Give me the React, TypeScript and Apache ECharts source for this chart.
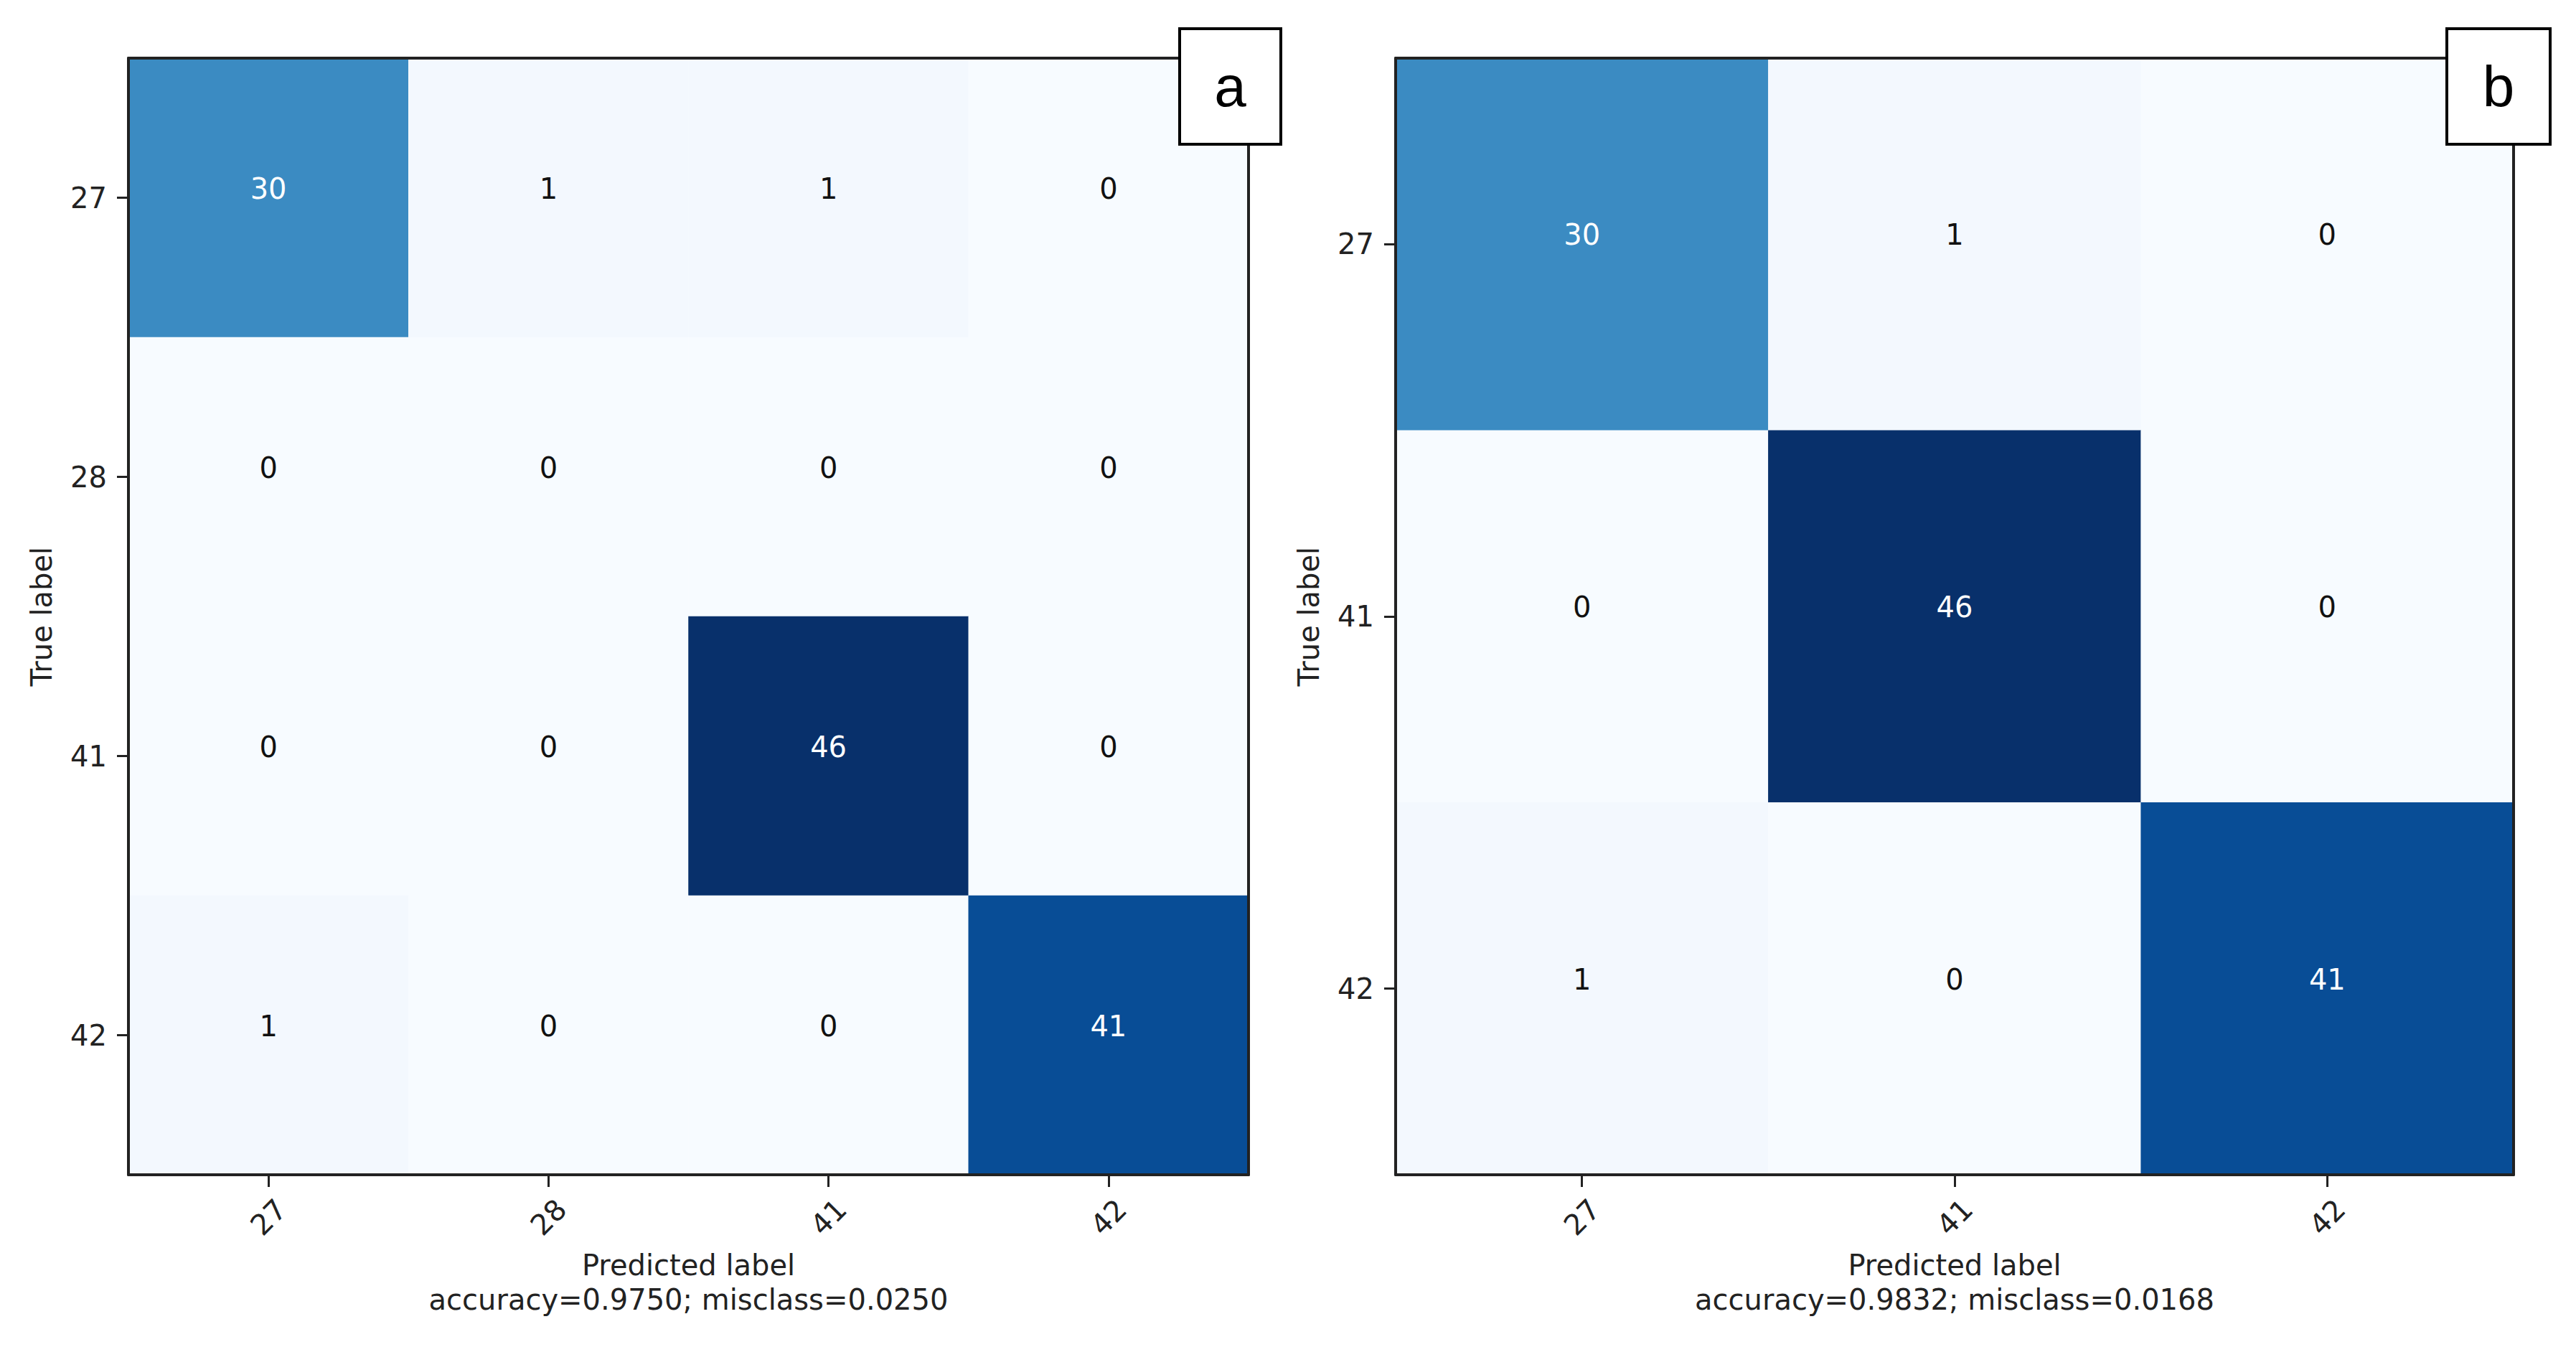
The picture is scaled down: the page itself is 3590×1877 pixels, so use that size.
import React, { useEffect, useRef } from "react";
import * as echarts from "echarts";

const catsA = ["27", "28", "41", "42"];
const matrixA = [
  [30, 1, 1, 0],
  [0, 0, 0, 0],
  [0, 0, 46, 0],
  [1, 0, 0, 41],
];
const captionA = "accuracy=0.9750; misclass=0.0250";

const catsB = ["27", "41", "42"];
const matrixB = [
  [30, 1, 0],
  [0, 46, 0],
  [1, 0, 41],
];
const captionB = "accuracy=0.9832; misclass=0.0168";

const panelLetters = ["a", "b"];
const BLUES = ["#f7fbff", "#deebf7", "#c6dbef", "#9ecae1", "#6baed6", "#4292c6", "#2171b5", "#08519c", "#08306b"];

const FONT = "DejaVu Sans";
const INK = "#222222";

function toData(m: number[][]) {
  const max = Math.max(...m.flat());
  const out: any[] = [];
  m.forEach((row, yi) =>
    row.forEach((v, xi) => {
      out.push({ value: [xi, yi, v], label: { color: v > max / 2 ? "#ffffff" : "#111111" } });
    })
  );
  return out;
}

export default function App() {
  const ref = useRef<HTMLDivElement>(null);
  useEffect(() => {
    if (!ref.current) return;
    const chart = echarts.init(ref.current, undefined, { renderer: "svg" });
    const grids = [
      { left: 179, top: 81, width: 1561, height: 1556 },
      { left: 1945, top: 81, width: 1558, height: 1556 },
    ];
    const panels = [
      { cats: catsA, m: matrixA, cap: captionA },
      { cats: catsB, m: matrixB, cap: captionB },
    ];
    const xAxis: any[] = [];
    const yAxis: any[] = [];
    const series: any[] = [];
    const visualMap: any[] = [];
    panels.forEach((p, i) => {
      const lineStyle = { color: INK, width: 4 };
      xAxis.push({
        type: "category",
        data: p.cats,
        gridIndex: i,
        position: "bottom",
        z: 10,
        axisLine: { show: true, lineStyle },
        axisTick: { show: true, alignWithLabel: true, length: 17, lineStyle: { color: INK, width: 3 } },
        axisLabel: { rotate: 45, align: "center", verticalAlign: "middle", margin: 59, fontSize: 40, fontFamily: FONT, color: INK },
        splitLine: { show: false },
        name: "Predicted label\n" + p.cap,
        nameLocation: "middle",
        nameGap: 150,
        nameTextStyle: { fontSize: 40, fontFamily: FONT, color: INK, lineHeight: 48, align: "center", verticalAlign: "middle" },
      });
      xAxis.push({
        type: "category",
        data: p.cats,
        gridIndex: i,
        position: "top",
        z: 10,
        axisLine: { show: true, lineStyle },
        axisTick: { show: false },
        axisLabel: { show: false },
        splitLine: { show: false },
      });
      yAxis.push({
        type: "category",
        data: p.cats,
        gridIndex: i,
        inverse: true,
        position: "left",
        z: 10,
        axisLine: { show: true, lineStyle },
        axisTick: { show: true, alignWithLabel: true, length: 16, lineStyle: { color: INK, width: 3 } },
        axisLabel: { margin: 30, fontSize: 40, fontFamily: FONT, color: INK },
        splitLine: { show: false },
        name: "True label",
        nameLocation: "middle",
        nameRotate: 90,
        nameGap: 121,
        nameTextStyle: { fontSize: 40, fontFamily: FONT, color: INK, align: "center", verticalAlign: "middle" },
      });
      yAxis.push({
        type: "category",
        data: p.cats,
        gridIndex: i,
        inverse: true,
        position: "right",
        z: 10,
        axisLine: { show: true, lineStyle },
        axisTick: { show: false },
        axisLabel: { show: false },
        splitLine: { show: false },
      });
      series.push({
        type: "heatmap",
        xAxisIndex: i * 2,
        yAxisIndex: i * 2,
        data: toData(p.m),
        label: { show: true, formatter: (pp: any) => String(pp.value[2]), fontSize: 40, fontFamily: FONT, offset: [0, -13] },
        itemStyle: { borderWidth: 0 },
        emphasis: { disabled: true },
      });
      visualMap.push({
        type: "continuous",
        show: false,
        seriesIndex: i,
        dimension: 2,
        min: 0,
        max: Math.max(...p.m.flat()),
        inRange: { color: BLUES },
      });
    });

    const boxes = [
      { x: 1644, y: 40, w: 141, h: 161 },
      { x: 3410, y: 40, w: 144, h: 161 },
    ];
    const graphic = boxes.map((b, i) => ({
      type: "group",
      z: 100,
      children: [
        { type: "rect", shape: { x: b.x, y: b.y, width: b.w, height: b.h }, style: { fill: "#ffffff", stroke: "#000000", lineWidth: 4 }, z: 100 },
        {
          type: "text",
          x: b.x + b.w / 2,
          y: b.y + b.h / 2,
          z: 101,
          style: { text: panelLetters[i], fontSize: 80, fontFamily: "Liberation Sans", fill: "#000000", align: "center", verticalAlign: "middle" },
        },
      ],
    }));

    chart.setOption({
      animation: false,
      backgroundColor: "#ffffff",
      grid: grids,
      xAxis,
      yAxis,
      visualMap,
      series,
      graphic,
    });
    return () => chart.dispose();
  }, []);
  return <div ref={ref} style={{ position: "absolute", left: 0, top: 0, width: 3590, height: 1877 }} />;
}
